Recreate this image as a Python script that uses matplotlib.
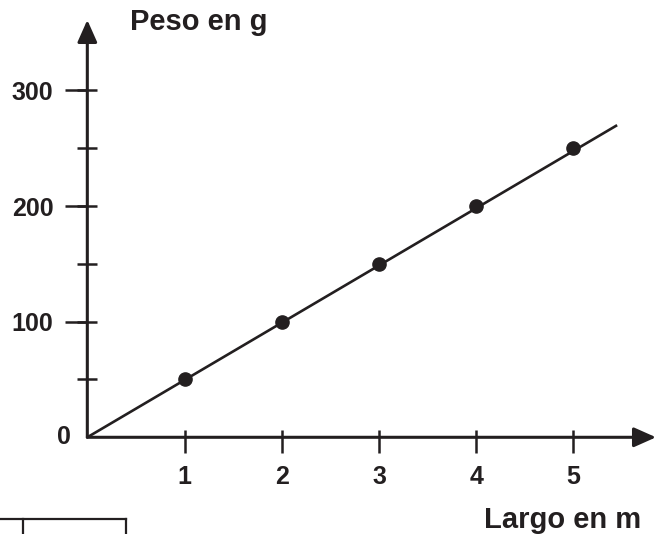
import matplotlib
matplotlib.use("Agg")
import matplotlib.pyplot as plt
from matplotlib.lines import Line2D

# data
largo = [1, 2, 3, 4, 5]
peso = [50, 100, 150, 200, 250]
line_x = [0, 5.45]
line_y = [0, 270]

x_ticks = [1, 2, 3, 4, 5]
y_major = [100, 200, 300]
y_minor = [50, 100, 150, 200, 250, 300]

INK = "#231f20"
plt.rcParams["font.family"] = ["Liberation Sans", "DejaVu Sans"]
plt.rcParams["font.weight"] = "bold"

fig = plt.figure(figsize=(6.57, 5.34), dpi=100)
ax = fig.add_axes([0.1329, 0.1811, 0.8656, 0.7815])
ax.set_xlim(0, 5.85)
ax.set_ylim(0, 361)
for s in ax.spines.values():
    s.set_visible(False)

# axes drawn as arrows
arrow = dict(arrowstyle="-|>,head_length=1.35,head_width=0.6", color=INK, lw=2.2,
             shrinkA=0, shrinkB=0, mutation_scale=10)
ax.annotate("", xy=(1, 0), xytext=(0, 0), xycoords="axes fraction",
            textcoords="axes fraction", arrowprops=arrow, annotation_clip=False)
ax.annotate("", xy=(0, 1), xytext=(0, 0), xycoords="axes fraction",
            textcoords="axes fraction", arrowprops=arrow, annotation_clip=False)

ax.plot(line_x, line_y, color=INK, lw=1.9, solid_capstyle="butt")
ax.plot(largo, peso, "o", color=INK, markersize=9.5)

# x ticks: longer below the axis than above
ax.set_xticks(x_ticks)
ax.set_xticklabels([str(v) for v in x_ticks])
ax.set_xticks(x_ticks, minor=True)
ax.xaxis.remove_overlapping_locs = False
ax.tick_params(axis="x", which="major", direction="out", length=11.5, width=1.8,
               color=INK, labelcolor=INK, labelsize=18, pad=8.5)
ax.tick_params(axis="x", which="minor", direction="in", length=5, width=1.8, color=INK)

# y ticks: labelled ones reach further left
ax.set_yticks(y_major)
ax.set_yticklabels([str(v) for v in y_major])
ax.set_yticks(y_minor, minor=True)
ax.yaxis.remove_overlapping_locs = False
ax.tick_params(axis="y", which="major", direction="out", length=15.8, width=1.8,
               color=INK, labelcolor=INK, labelsize=18, pad=8.5)
ax.tick_params(axis="y", which="minor", direction="inout", length=15, width=1.8, color=INK)

ax.annotate("0", xy=(0, 0), xytext=(-11.5, 0), textcoords="offset points",
            ha="right", va="center", fontsize=18, color=INK, fontweight="bold")

fig.text(130 / 657, 1 - 22 / 534, "Peso en g", ha="left", va="center",
         fontsize=21, fontweight="bold", color=INK)
fig.text(641 / 657, 1 - 520 / 534, "Largo en m", ha="right", va="center",
         fontsize=21, fontweight="bold", color=INK)

# fragment of a table cut off at the bottom-left edge
for xs, ys in [([0, 126], [519, 519]), ([23, 23], [519, 534]), ([126, 126], [519, 534])]:
    fig.add_artist(Line2D([x / 657 for x in xs], [1 - y / 534 for y in ys],
                          color=INK, lw=1.6, transform=fig.transFigure))

fig.savefig("out.png", dpi=100)
